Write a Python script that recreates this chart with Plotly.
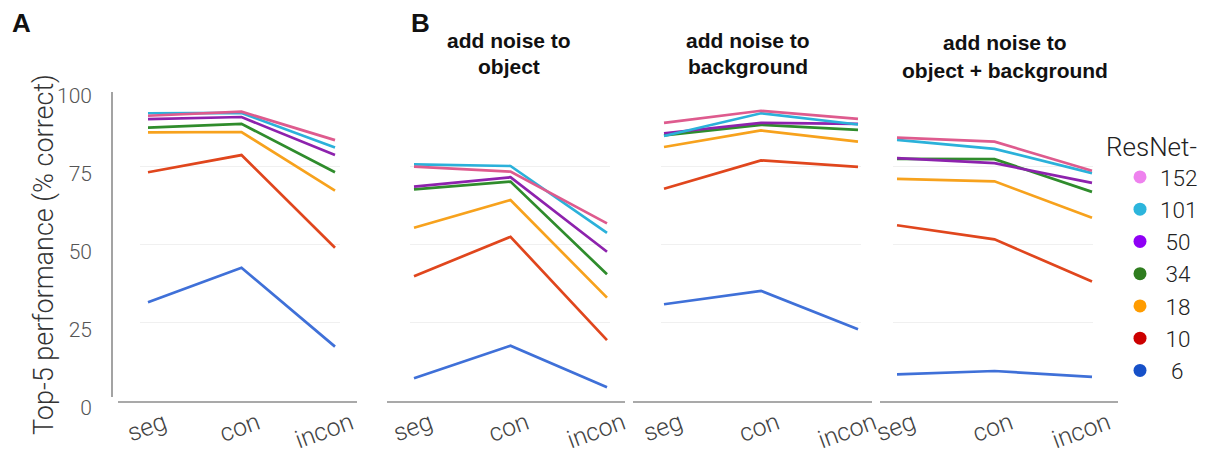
import plotly.graph_objects as go

# ---------------- data ----------------
conditions = ["seg", "con", "incon"]
models = ["152", "101", "50", "34", "18", "10", "6"]
legend_labels = ["152", "101", "\u00a050", "\u00a034", "\u00a018", "\u00a010", "\u00a0\u00a06"]

line_colors = ["#de5b8e", "#2bb1da", "#8d22ad", "#2f8c2c", "#f7a21d", "#e0461d", "#3f70d8"]
legend_colors = ["#ee82ee", "#2cb5dc", "#8f00f5", "#2f7d1f", "#ff9c00", "#cc0000", "#1650c8"]

# Panel A: no noise
perf_A = [
    [91.1, 92.4, 83.3],   # 152
    [91.9, 92.0, 80.9],   # 101
    [90.0, 90.7, 78.5],   # 50
    [87.3, 88.5, 73.0],   # 34
    [85.8, 85.9, 67.1],   # 18
    [73.0, 78.5, 48.8],   # 10
    [31.3, 42.4, 17.1],   # 6
]
# Panel B1: add noise to object
perf_obj = [
    [74.8, 73.2, 56.6],
    [75.5, 75.0, 53.6],
    [68.4, 71.4, 47.5],
    [67.5, 70.0, 40.3],
    [55.2, 64.1, 32.8],
    [39.7, 52.3, 19.2],
    [7.0, 17.4, 4.1],
]
# Panel B2: add noise to background
perf_bg = [
    [88.8, 92.7, 90.1],
    [84.6, 91.9, 88.3],
    [85.5, 88.8, 88.5],
    [84.8, 88.2, 86.6],
    [81.1, 86.4, 82.8],
    [67.7, 76.8, 74.7],
    [30.7, 35.0, 22.7],
]
# Panel B3: add noise to object + background
perf_objbg = [
    [84.1, 82.8, 73.5],
    [83.4, 80.5, 72.7],
    [77.5, 75.9, 69.6],
    [77.3, 77.2, 66.7],
    [70.9, 70.1, 58.4],
    [56.0, 51.5, 38.0],
    [8.2, 9.3, 7.4],
]

y_ticks = [0, 25, 50, 75, 100]
panel_titles = [
    ["add noise to", "object"],
    ["add noise to", "background"],
    ["add noise to", "object + background"],
]

# ---------------- layout geometry (pixels) ----------------
W, H = 1214, 453
px_x = lambda p: p / W
px_y = lambda p: (H - p) / H

# plot area per panel: (left, right, first category px, last category px)
panels = [
    (140, 340, 148, 335),
    (410, 610, 414, 607),
    (661, 861, 664, 858),
    (893, 1093, 897, 1092),
]
y_top_px, y_bot_px = 88, 400

data_sets = [perf_A, perf_obj, perf_bg, perf_objbg]

fig = go.Figure()

for p, perf in enumerate(data_sets):
    xa = "x" if p == 0 else f"x{p+1}"
    ya = "y" if p == 0 else f"y{p+1}"
    # draw low-performance lines first so top ones sit above
    for i in reversed(range(len(models))):
        fig.add_trace(go.Scatter(
            x=conditions, y=perf[i], mode="lines",
            line=dict(color=line_colors[i], width=2.7),
            name="ResNet-" + models[i], showlegend=False,
            xaxis=xa, yaxis=ya,
        ))

# legend entries (markers)
for i in range(len(models)):
    fig.add_trace(go.Scatter(
        x=[None], y=[None], mode="markers",
        marker=dict(size=13, color=legend_colors[i]),
        name=legend_labels[i], showlegend=True,
        xaxis="x4", yaxis="y4",
    ))

font_light = dict(family="Roboto, Liberation Sans, Arial", weight=300)

layout_axes = {}
for p, (l, r, c0, c2) in enumerate(panels):
    s = (c2 - c0) / 2.0
    rng = [-(c0 - l) / s, 2 + (r - c2) / s]
    xk = "xaxis" if p == 0 else f"xaxis{p+1}"
    yk = "yaxis" if p == 0 else f"yaxis{p+1}"
    ya = "y" if p == 0 else f"y{p+1}"
    xa = "x" if p == 0 else f"x{p+1}"
    layout_axes[xk] = dict(
        domain=[px_x(l), px_x(r)], anchor=ya, type="category",
        categoryorder="array", categoryarray=conditions,
        range=rng, showgrid=False, showline=False, zeroline=False,
        ticks="", tickangle=-20, automargin=False,
        ticklabelshift=16, ticklabelstandoff=3,
        tickfont=dict(size=25, color="#444444", **font_light),
    )
    yd = dict(
        domain=[px_y(y_bot_px), px_y(y_top_px)], anchor=xa,
        range=[0, 100], tickvals=y_ticks, showgrid=True,
        gridcolor="#f0f0f0", gridwidth=1, zeroline=False, showline=False,
        ticks="", automargin=False,
    )
    if p == 0:
        yd.update(
            anchor="free", position=px_x(112), showticklabels=True,
            tickfont=dict(size=21, color="#555555", **font_light),
            ticklabelshift=8, ticklabelstandoff=20,
        )
    else:
        yd.update(showticklabels=False)
    layout_axes[yk] = yd

shapes = []
# horizontal base lines
for (x0, x1) in [(118, 357), (387, 625), (633, 872), (880, 1118)]:
    shapes.append(dict(type="line", xref="paper", yref="paper",
                       x0=px_x(x0), x1=px_x(x1), y0=px_y(402), y1=px_y(402),
                       line=dict(color="#8c8c8c", width=1.6)))
# vertical axis line of panel A
shapes.append(dict(type="line", xref="paper", yref="paper",
                   x0=px_x(112), x1=px_x(112), y0=px_y(397), y1=px_y(92),
                   line=dict(color="#8c8c8c", width=1.6)))

annotations = []
bold = dict(family="Liberation Sans, Arial", color="#111111")
annotations.append(dict(text="<b>A</b>", x=px_x(21), y=px_y(23), xref="paper", yref="paper",
                        showarrow=False, xanchor="center", yanchor="middle",
                        font=dict(size=26, **bold)))
annotations.append(dict(text="<b>B</b>", x=px_x(420), y=px_y(23), xref="paper", yref="paper",
                        showarrow=False, xanchor="center", yanchor="middle",
                        font=dict(size=26, **bold)))
title_centers = [(509, 40, 67), (748, 40, 67), (1005, 42, 70)]
for (cx, y1, y2), lines in zip(title_centers, panel_titles):
    for yy, txt in zip((y1, y2), lines):
        annotations.append(dict(text="<b>" + txt + "</b>", x=px_x(cx), y=px_y(yy),
                                xref="paper", yref="paper", showarrow=False,
                                xanchor="center", yanchor="middle",
                                font=dict(size=21, **bold)))
annotations.append(dict(text="Top-5 performance (% correct)", textangle=-90,
                        x=px_x(44), y=px_y(255), xref="paper", yref="paper",
                        showarrow=False, xanchor="center", yanchor="middle",
                        font=dict(size=27, color="#333333", **font_light)))

fig.update_layout(
    width=W, height=H,
    margin=dict(l=0, r=0, t=0, b=0, autoexpand=False),
    paper_bgcolor="white", plot_bgcolor="white",
    showlegend=True,
    legend=dict(
        x=px_x(1104), y=px_y(122), xanchor="left", yanchor="top",
        title=dict(text="ResNet-", font=dict(size=26, color="#222222", **font_light)),
        font=dict(size=22.5, color="#222222", **font_light),
        bgcolor="rgba(0,0,0,0)", indentation=16, tracegroupgap=0,
    ),
    shapes=shapes, annotations=annotations,
    **layout_axes,
)

fig.write_html(
    "out.html",
    config={"displayModeBar": False},
    post_script="document.body.style.margin='0';document.body.style.overflow='hidden';",
)
